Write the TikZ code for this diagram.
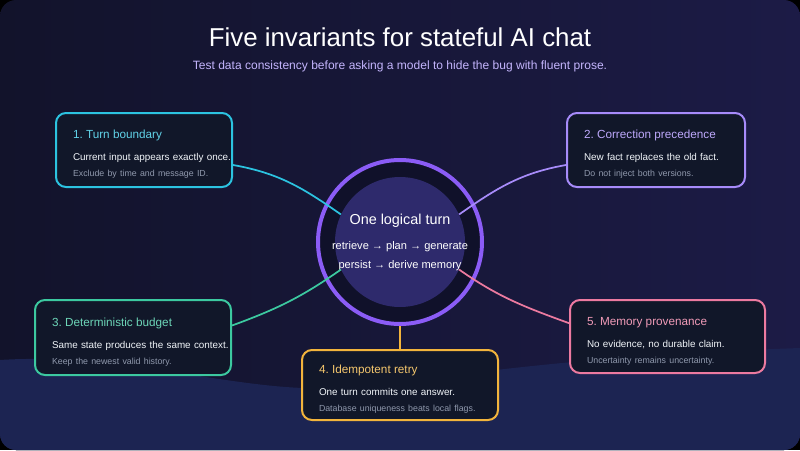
\documentclass[tikz,border=0pt]{standalone}
\usepackage{fontspec}
\setmainfont{Liberation Sans}
\usepackage{xcolor}
\usetikzlibrary{positioning, calc}
\definecolor{bgleft}{HTML}{12132B}
\definecolor{bgright}{HTML}{1C1B46}
\definecolor{wavefill}{HTML}{1C2452}
\definecolor{cardfill}{HTML}{111729}
\definecolor{ringpurple}{HTML}{8B5CF6}
\definecolor{ringdark}{HTML}{10112A}
\definecolor{corefill}{HTML}{2E2A6C}
\definecolor{subtext}{HTML}{C4B5FD}
\definecolor{notegray}{HTML}{9099AD}
\definecolor{bodywhite}{HTML}{F1F5F9}
\definecolor{themecyan}{HTML}{2CC3E0}
\definecolor{themeviolet}{HTML}{A78BFA}
\definecolor{themegreen}{HTML}{3CC9A0}
\definecolor{themeamber}{HTML}{F2B43C}
\definecolor{themerose}{HTML}{EC7AA0}

\frenchspacing
\newcommand{\cardtext}[4]{%
  \mbox{\rule{0pt}{13pt}\color{#1!75!white}\fontsize{8.8}{10}\selectfont #2}\\[4.5pt]
  \mbox{\color{bodywhite}#3}\\
  \mbox{\color{notegray}\fontsize{6.6}{8}\selectfont #4}}

\begin{document}
\begin{tikzpicture}[
    x=0.75pt, y=-0.75pt,
    card/.style={rectangle, rounded corners=7.5pt, draw=#1, line width=1.5pt, fill=cardfill, inner xsep=12.75pt, inner ysep=0pt, align=left, font=\fontsize{7.4}{12}\selectfont},
    ring/.style={circle, draw=ringpurple, line width=3pt, fill=ringdark, minimum size=123pt, inner sep=0pt},
    core/.style={circle, fill=corefill, minimum size=97.5pt, inner sep=0pt},
    coretext/.style={align=center, text=white, font=\fontsize{8.3}{14.25}\selectfont},
    link/.style={draw=#1, line width=1.3pt}
]

\useasboundingbox (0,0) rectangle (800,450);
\fill[black] (0,0) rectangle (800,450);
\fill[left color=bgleft, right color=bgright, rounded corners=12pt] (0,0) rectangle (800,450);
\begin{scope}
  \clip[rounded corners=12pt] (0,0) rectangle (800,450);
  \fill[wavefill] (0,360) .. controls (120,352) and (240,392) .. (330,388)
    .. controls (420,384) and (520,358) .. (800,348) -- (800,450) -- (0,450) -- cycle;
\end{scope}

\node[text=white, font=\fontsize{19.4}{22}\selectfont] (title) at (400,37) {Five invariants for stateful AI chat};
\node[text=subtext, font=\fontsize{9.03}{11}\selectfont] (subtitle) at (400,66) {Test data consistency before asking a model to hide the bug with fluent prose.};

\node[ring] (ring) at (400,242) {};
\node[core] (core) at (400,242) {};
\node[coretext] (turntext) at (400,242) {{\fontsize{10.8}{13}\selectfont One logical turn}\\[4.5pt]
  retrieve → plan → generate\\ persist → derive memory};

\node[card=themecyan, text width=106.5pt, minimum height=55.5pt] (turn) at (144,150)
  {\cardtext{themecyan}{1. Turn boundary}{Current input appears exactly once.}{Exclude by time and message ID.}};
\node[card=themeviolet, text width=108pt, minimum height=55.5pt] (correct) at (656,150)
  {\cardtext{themeviolet}{2. Correction precedence}{New fact replaces the old fact.}{Do not inject both versions.}};
\node[card=themegreen, text width=121.5pt, minimum height=56.25pt] (budget) at (133,337.5)
  {\cardtext{themegreen}{3. Deterministic budget}{Same state produces the same context.}{Keep the newest valid history.}};
\node[card=themeamber, text width=121.5pt, minimum height=52.5pt] (retry) at (400,385)
  {\cardtext{themeamber}{4. Idempotent retry}{One turn commits one answer.}{Database uniqueness beats local flags.}};
\node[card=themerose, text width=120.75pt, minimum height=54.75pt] (memory) at (667.5,336.5)
  {\cardtext{themerose}{5. Memory provenance}{No evidence, no durable claim.}{Uncertainty remains uncertainty.}};

\draw[link=themecyan] ([yshift=-11.25pt]turn.east) to[out=-10, in=145] (core.155);
\draw[link=themeviolet] ([yshift=-11.25pt]correct.west) to[out=190, in=35] (core.25);
\draw[link=themegreen] ([yshift=9pt]budget.east) to[out=20, in=-145] (core.205);
\draw[link=themerose] ([yshift=10pt]memory.west) to[out=160, in=-35] (core.-25);
\draw[link=themeamber] (ring.south) -- (retry.north);

\end{tikzpicture}
\end{document}
